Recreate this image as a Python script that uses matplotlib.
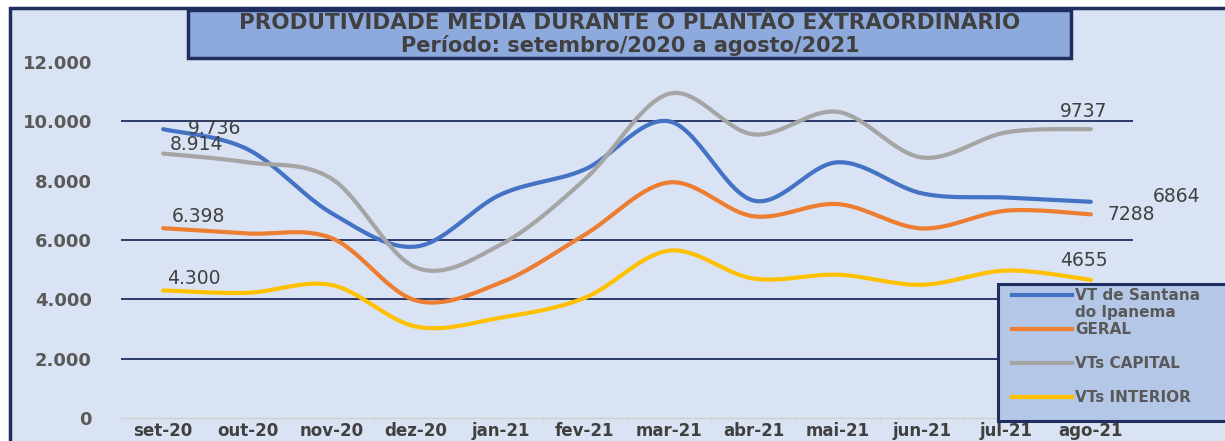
import numpy as np
import matplotlib
matplotlib.use("Agg")
import matplotlib.pyplot as plt
from matplotlib.patches import Rectangle
from matplotlib.ticker import FuncFormatter, FixedLocator

# ---------------- data ----------------
months = ["set-20", "out-20", "nov-20", "dez-20", "jan-21", "fev-21",
          "mar-21", "abr-21", "mai-21", "jun-21", "jul-21", "ago-21"]
santana = [9736, 9060, 6900, 5780, 7530, 8380, 10000, 7330, 8620, 7570, 7430, 7288]
geral = [6398, 6220, 6060, 3960, 4560, 6180, 7940, 6800, 7210, 6390, 6990, 6864]
capital = [8914, 8620, 8060, 5070, 5840, 8040, 10930, 9560, 10320, 8780, 9630, 9737]
interior = [4300, 4220, 4480, 3080, 3380, 4050, 5640, 4700, 4830, 4490, 4970, 4655]
series_names = ["VT de Santana\ndo Ipanema", "GERAL", "VTs CAPITAL", "VTs INTERIOR"]
yticks = [0, 2000, 4000, 6000, 8000, 10000, 12000]
grid_values = [2000, 4000, 6000, 10000]
title_1 = "PRODUTIVIDADE MÉDIA DURANTE O PLANTÃO EXTRAORDINÁRIO"
title_2 = "Período: setembro/2020 a agosto/2021"

colors = ["#4472C4", "#ED7D31", "#A5A5A5", "#FFC000"]
BG = "#DAE3F3"
NAVY = "#1F2D5F"
TXT = "#404040"


def smooth(xs, ys, n=30):
    """Catmull-Rom curve through the points (Excel-like smoothed line)."""
    xs = np.asarray(xs, float)
    ys = np.asarray(ys, float)
    px = np.concatenate([[xs[0]], xs, [xs[-1]]])
    py = np.concatenate([[ys[0]], ys, [ys[-1]]])
    ox, oy = [], []
    t = np.linspace(0, 1, n, endpoint=False)
    for i in range(1, len(px) - 2):
        for arr, out in ((px, ox), (py, oy)):
            p0, p1, p2, p3 = arr[i - 1], arr[i], arr[i + 1], arr[i + 2]
            c1 = p1 + (p2 - p0) / 6.0
            c2 = p2 - (p3 - p1) / 6.0
            out.extend((1 - t) ** 3 * p1 + 3 * (1 - t) ** 2 * t * c1
                       + 3 * (1 - t) * t ** 2 * c2 + t ** 3 * p2)
    ox.append(xs[-1])
    oy.append(ys[-1])
    return np.array(ox), np.array(oy)


W, H = 1225, 441
fig = plt.figure(figsize=(W / 100, H / 100), dpi=100)
fig.patch.set_facecolor("white")

# background axes (pixel coordinates, y down)
bg = fig.add_axes([0, 0, 1, 1], zorder=0)
bg.set_xlim(0, W)
bg.set_ylim(H, 0)
bg.axis("off")
bg.add_patch(Rectangle((10, 8), W + 20, H + 20, facecolor=BG, edgecolor=NAVY,
                       linewidth=2.5, clip_on=False))

# main chart axes
ax = fig.add_axes([121 / W, 1 - 418 / H, (1133 - 121) / W, (418 - 62) / H], zorder=1)
ax.patch.set_visible(False)
x = np.arange(len(months))
ax.set_xlim(-0.5, len(months) - 0.5)
ax.set_ylim(0, 12000)

for g in grid_values:
    ax.axhline(g, color=NAVY, lw=1.3, zorder=1)

all_series = [santana, geral, capital, interior]
for vals, col in zip(all_series, colors):
    sx, sy = smooth(x, vals)
    ax.plot(sx, sy, color=col, lw=3.0, solid_capstyle="round", zorder=3)

for s in ["top", "right", "left"]:
    ax.spines[s].set_visible(False)
ax.spines["bottom"].set_color("#D0D0D0")
ax.spines["bottom"].set_linewidth(1.0)

ax.set_yticks(yticks)
ax.yaxis.set_major_formatter(FuncFormatter(lambda v, p: f"{int(v):,}".replace(",", ".")))
ax.tick_params(axis="y", length=0, pad=21, labelsize=13, labelcolor="#595959")
for lab in ax.get_yticklabels():
    lab.set_fontweight("bold")

ax.set_xticks(x)
ax.set_xticklabels(months)
ax.tick_params(axis="x", which="major", length=0, pad=3, labelsize=12, labelcolor=TXT)
for lab in ax.get_xticklabels():
    lab.set_fontweight("bold")
ax.xaxis.set_minor_locator(FixedLocator(np.arange(-0.5, len(months), 1.0)))
ax.tick_params(axis="x", which="minor", length=3, color="#D0D0D0", direction="out")

# data labels
lab_kw = dict(textcoords="offset pixels", fontsize=13.5, color=TXT, va="center",
              ha="left", zorder=5)
ax.annotate(f"{santana[0]:,}".replace(",", "."), (x[0], santana[0]), xytext=(25, 1), **lab_kw)
ax.annotate(f"{capital[0]:,}".replace(",", "."), (x[0], capital[0]), xytext=(7, 9), **lab_kw)
ax.annotate(f"{geral[0]:,}".replace(",", "."), (x[0], geral[0]), xytext=(9, 12), **lab_kw)
ax.annotate(f"{interior[0]:,}".replace(",", "."), (x[0], interior[0]), xytext=(4, 12), **lab_kw)
ax.annotate(f"{capital[-1]}", (x[-1], capital[-1]), xytext=(-31, 18), **lab_kw)
ax.annotate(f"{interior[-1]}", (x[-1], interior[-1]), xytext=(-31, 19), **lab_kw)
ax.annotate(f"{geral[-1]}", (x[-1], geral[-1]), xytext=(62, 18), **lab_kw)
ax.annotate(f"{santana[-1]}", (x[-1], santana[-1]), xytext=(17, -13), **lab_kw)

# overlay axes for title box and legend (pixel coordinates, y down)
ov = fig.add_axes([0, 0, 1, 1], zorder=5)
ov.set_xlim(0, W)
ov.set_ylim(H, 0)
ov.axis("off")
ov.patch.set_visible(False)

ov.add_patch(Rectangle((188, 10), 883, 48, facecolor="#8EA9DB", edgecolor=NAVY,
                       linewidth=2.5))
ov.text(630, 23, title_1, ha="center", va="center", fontsize=15.5,
        fontweight="bold", color=TXT)
ov.text(630, 45, title_2, ha="center", va="center", fontsize=15,
        fontweight="bold", color=TXT)

ov.add_patch(Rectangle((998, 284), 240, 137, facecolor="#B4C7E7", edgecolor=NAVY,
                       linewidth=2.2, clip_on=False))
leg_y = [295, 329, 363, 397]
for name, col, yy in zip(series_names, colors, leg_y):
    ov.plot([1012, 1072], [yy, yy], color=col, lw=3.0)
    ov.text(1075, yy - 7, name, ha="left", va="top", fontsize=11,
            fontweight="bold", color="#595959", linespacing=1.2)

fig.savefig("out.png", dpi=100, facecolor=fig.get_facecolor())
